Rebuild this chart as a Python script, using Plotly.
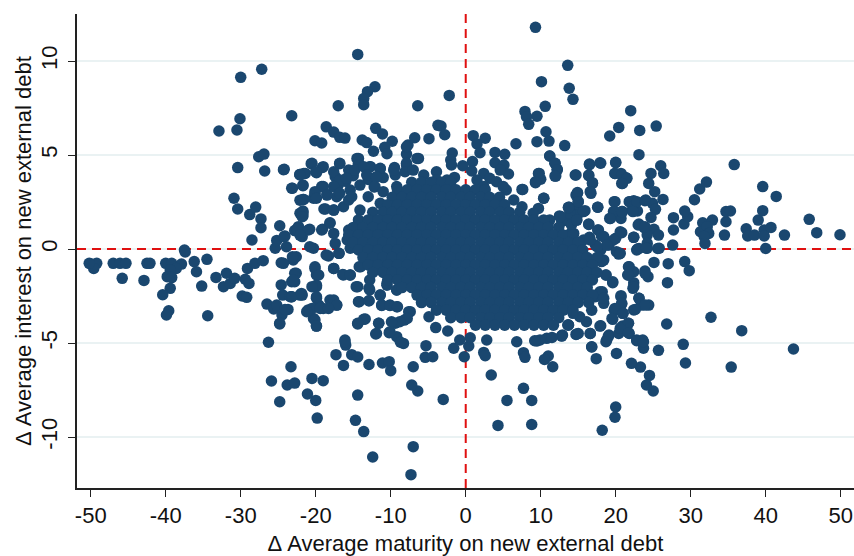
import plotly.graph_objects as go

left_maturity = [-49.9,-49.2,-49.6,-50.2,-47.0,-46.1,-45.3,-45.8,-42.9,-42.5,
 -42.1,-40.0,-39.2,-37.4,-37.9,-38.6,-36.2,-34.5,-35.9,-39.4,
 -39.8,-39.2,-39.4,-40.4,-39.6,-39.9,-35.2,-34.4,-33.3,-31.9,
 -32.3,-31.4,-30.8,-29.4,-28.9,-29.8,-29.2,-29.1,-28.1,-27.0,
 -26.5,-25.6,-25.2,-24.5,-23.7,-24.8,-26.3,-23.3,-25.9,-23.8,
 -22.8,-24.8,-24.6,-25.4,-23.9,-23.0,-22.8,-23.2,-24.6,-24.4,
 -23.2,-22.1,-37.5,-30.0,-27.2,-23.2,-32.9,-30.5,-30.1,-27.6,
 -26.9,-30.4,-26.8,-24.3,-22.1,-23.2,-30.9,-30.4,-28.8,-28.0,
 -27.3,-27.3,-24.8,-24.1,-25.2,-28.5,-22.8,-22.3,-22.1,-22.1]
left_interest = [-0.80,-0.76,-1.03,-0.76,-0.76,-0.76,-0.76,-1.56,-1.67,-0.76,
 -0.76,-0.76,-0.76,-0.16,-0.80,-1.03,-0.67,-0.55,-1.21,-1.12,
 -1.47,-1.52,-2.09,-2.43,-3.28,-3.51,-1.97,-3.55,-1.51,-1.29,
 -2.00,-1.83,-1.56,-1.61,-1.83,-2.50,-2.57,-1.03,-0.76,-0.62,
 -2.93,-3.19,-2.98,-3.51,-3.21,-3.99,-4.96,-6.26,-7.02,-7.23,
 -7.13,-8.12,-0.73,0.04,0.12,-0.58,-1.29,-1.74,-1.91,-2.45,
 -2.54,-2.45,-0.05,9.13,9.56,7.09,6.28,6.33,6.93,4.91,
 5.05,4.33,4.15,4.22,3.97,3.23,2.70,2.13,1.83,2.23,
 1.60,1.13,1.24,0.69,0.46,0.48,0.98,1.19,2.60,1.90]

top_maturity = [9.3,-14.4,13.6,10.1,13.8,14.3,-12.1,-13.1,-13.6,-13.6,
 -17.0,-6.4,-2.2,7.9,8.1,8.4,9.5,10.6,-18.6,-17.6,
 -16.8,-16.1,-20.1,-19.2,-12.0,-11.1,-13.8,-13.2,-9.8,-10.8,
 -12.3,-10.5,-7.7,-6.8,-4.9,-3.7,-3.3,-2.8,-7.9,-6.3,
 -1.8,-2.0,-1.9,1.0,2.6,1.5,1.9,0.9,-0.4,0.8,
 3.9,5.2,3.9,5.1,6.7,9.5,10.7,11.1,13.2,11.2,
 11.9,12.2,12.0,14.6,9.7,10.0,9.3,7.5,5.4,10.4,
 14.7,13.7,14.8,12.5,14.4,9.7,-14.5,-14.3,-12.7,-11.4,
 -9.5,-9.4,-7.9,-16.8,-19.1,-20.6,-19.9,-21.4,-22.1,-24.2,
 -21.7,-21.7,-21.7,-21.7,-20.3,-20.1,-19.2,-18.9,-17.6,-17.4,
 -17.0,-17.2,-22.5,-20.8,-19.1,-18.1,-21.8,-24.2,-3.9,-1.5,
 2.4,3.2,5.7,4.6,-16.0,-15.0,-13.0,-12.2,-11.0,-18.5]
top_interest = [11.79,10.35,9.77,8.90,8.55,7.96,8.63,8.37,8.00,7.68,
 7.62,7.62,8.17,7.32,7.04,6.63,7.06,7.59,6.50,6.22,
 5.94,5.90,5.76,5.64,6.42,6.12,5.80,5.66,5.73,5.41,
 5.20,5.07,5.53,5.92,5.87,6.58,6.54,6.08,5.05,4.82,
 5.11,4.73,4.47,6.03,5.89,5.59,5.12,4.65,4.43,4.15,
 5.14,5.04,4.59,4.47,5.60,5.71,6.24,5.74,5.50,4.95,
 4.56,4.24,3.88,3.94,4.02,3.71,3.53,3.17,3.14,2.70,
 2.87,2.22,2.25,1.76,0.83,2.16,4.82,4.56,4.38,4.26,
 4.33,3.94,4.47,4.54,4.34,4.54,4.06,4.02,3.97,4.24,
 3.37,2.64,2.02,1.76,2.70,3.05,3.32,2.13,2.07,3.85,
 3.40,2.78,1.01,1.05,1.05,1.40,0.66,0.66,4.11,3.81,
 4.02,3.76,3.99,4.20,3.60,3.90,3.70,3.30,3.80,2.90]

right_maturity = [22.0,20.4,19.2,23.2,25.4,23.1,35.8,20.0,18.0,16.5,
 16.4,16.9,16.7,14.9,15.0,19.9,20.7,21.3,20.9,24.7,
 26.0,26.4,24.4,25.2,26.3,24.0,24.9,25.3,24.7,19.9,
 22.4,21.8,22.2,22.9,20.9,19.8,20.7,19.3,17.6,15.9,
 13.8,14.9,13.8,12.7,16.4,17.6,18.1,16.5,14.0,12.7,
 23.1,23.8,25.1,25.7,24.2,20.8,22.4,20.0,19.1,17.3,
 23.1,24.2,25.6,27.6,27.7,27.7,29.1,29.6,29.2,30.5,
 31.2,32.1,31.6,32.9,31.3,32.2,32.4,31.8,31.9,34.5,
 34.7,34.7,35.3,37.4,37.6,38.5,39.0,39.6,39.6,41.4,
 39.8,40.7,39.8,42.5,45.8,46.8,49.9,40.0]
right_interest = [7.36,6.47,6.01,6.31,6.54,5.02,4.49,4.59,4.56,4.49,
 3.90,3.49,2.96,2.96,2.52,4.02,4.02,3.81,3.49,4.02,
 4.43,4.02,3.49,3.05,2.64,2.61,2.43,2.11,1.68,2.52,
 2.57,2.52,2.07,2.02,1.99,1.99,1.63,1.63,2.22,2.04,
 2.22,1.81,1.45,1.72,1.33,1.01,0.69,0.62,0.83,0.48,
 1.33,1.13,1.05,0.74,0.74,0.87,0.62,0.57,0.21,0.21,
 0.03,0.30,0.03,0.21,1.01,1.67,1.33,1.72,2.02,2.62,
 3.19,3.56,1.40,1.54,0.92,1.19,0.83,0.66,0.30,0.74,
 1.45,1.99,2.02,1.08,0.69,0.74,1.54,2.04,3.32,2.80,
 1.01,1.15,0.69,0.74,1.58,0.87,0.76,0.03]

low_maturity = [-7.3,-12.4,-7.0,-13.6,-14.7,-19.8,4.3,8.8,-3.0,5.5,
 8.8,7.7,3.4,-6.4,-7.2,-7.0,-14.4,-20.0,-21.1,-19.0,
 -20.5,-16.3,-17.3,-15.2,-14.4,-12.9,-11.1,-10.2,-10.0,-16.1,
 -16.0,-5.3,-5.4,-4.4,-0.2,-1.6,-0.8,0.4,0.6,2.4,
 2.6,2.8,7.7,7.9,6.8,11.0,10.5,11.6,9.5,10.8,
 12.8,14.7,13.7,-8.3,-9.2,-10.2,-12.0,-11.6,-13.4,-14.4,
 -9.4,-8.2,-7.4,-4.9,-4.0,-2.4,-19.9,-20.3,-21.0,-19.6,
 -18.1,-17.2,-19.0,-24.1,-24.8,-19.9,-19.9,-21.8,-23.4,-19.9,
 -20.1,-22.8,-22.6,-22.6,-24.3,-14.2,-12.9,-11.2,-10.1,-9.2,
 -14.4,-12.9,-11.4,-17.6,-16.3,-15.4,-14.2,-18.3,-16.9,-20.3,
 -15.4,-9.2,-10.5]
low_interest = [-12.00,-11.06,-10.51,-9.71,-9.11,-8.99,-9.38,-9.33,-8.00,-8.05,
 -8.05,-7.41,-6.70,-7.55,-7.23,-6.26,-7.77,-8.05,-7.71,-7.00,
 -6.88,-6.19,-5.62,-5.62,-5.74,-6.14,-6.06,-5.99,-6.47,-4.84,
 -5.11,-5.14,-5.76,-5.73,-5.73,-5.28,-4.84,-5.16,-4.72,-5.50,
 -5.67,-4.84,-5.51,-5.76,-4.93,-5.69,-5.87,-6.26,-4.89,-4.75,
 -4.61,-4.54,-4.04,-5.02,-4.66,-4.45,-4.52,-3.95,-3.72,-3.99,
 -3.95,-3.78,-3.33,-3.60,-4.18,-4.36,-4.10,-3.69,-3.24,-2.98,
 -2.71,-2.98,-3.16,-3.21,-3.95,-2.62,-2.00,-2.45,-2.54,-1.38,
 -1.03,-1.74,-1.29,-0.41,-0.76,-2.80,-2.75,-2.98,-2.98,-3.07,
 -2.00,-2.09,-2.45,-1.03,-1.38,-1.38,-0.94,-0.37,-0.23,0.04,
 0.04,-2.18,-1.92]

lowright_maturity = [18.2,19.9,20.0,25.0,24.1,24.5,23.3,22.1,17.4,20.1,
 16.8,23.7,25.7,29.3,29.0,35.4,43.7,36.8,32.7,26.8,
 22.8,23.6,18.8,19.1,20.4,20.9,21.8,21.7,18.0,16.6,
 14.8,12.9,13.6,19.6,20.9,22.4,24.4,23.1,23.4,20.7,
 20.8,22.3,22.4,21.6,21.8,22.4,23.9,24.3,26.9,25.1,
 27.0,29.2,29.8,25.8,22.9,24.2,20.4,19.6,18.7,18.2,
 17.3,18.4,19.8,18.4,18.0]
lowright_interest = [-9.64,-8.95,-8.40,-7.55,-7.23,-6.72,-6.28,-6.08,-5.83,-5.55,
 -5.21,-5.28,-5.39,-6.06,-5.07,-6.28,-5.32,-4.34,-3.63,-3.99,
 -4.84,-4.84,-4.84,-4.57,-4.49,-4.10,-4.49,-3.95,-4.08,-4.49,
 -4.52,-4.57,-4.04,-3.74,-3.42,-3.24,-2.98,-2.62,-2.98,-2.48,
 -2.93,-2.09,-1.79,-1.38,-0.94,-1.21,-1.17,-1.47,-1.79,-0.71,
 -0.78,-0.67,-1.15,0.04,0.00,0.04,-0.27,-1.79,-1.38,-2.27,
 -2.54,-2.89,-3.25,-0.59,-0.05]

# Points from closer crops around the central mass
nearleft_maturity = [-20.5,-19.0,-20.0,-21.6,-22.1,-21.7,-23.1,-16.8,-17.6,-14.3,
 -14.3,-15.6,-16.8,-19.0,-20.1,-21.6,-19.9,-18.5,-17.6,-16.8,
 -21.7,-21.8,-18.7,-17.6,-16.3,-18.1,-17.6,-19.2,-21.0,-22.5,
 -22.1,-20.8,-18.6,-16.9,-17.4,-15.8,-15.6,-15.6,-15.4,-12.8,
 -11.4,-9.6,-7.9,-7.9,-6.5,-14.8,-13.6,-15.9,-13.2,-11.9,
 -12.1,-11.0,-14.1,-15.2,-13.0,-11.4,-14.1,-9.2,-8.1,-7.0,
 -5.6,-3.9,-2.5,1.5,4.1,5.0,2.4,6.4,7.5,9.0,
 11.2,12.8,13.9,14.1,14.8]
nearleft_interest = [4.56,4.38,4.11,4.02,3.94,3.40,3.23,4.56,4.11,4.82,
 4.47,4.20,3.67,3.32,2.96,2.64,2.70,2.87,3.32,2.96,
 1.93,1.72,2.13,2.07,2.25,1.37,0.83,1.01,1.01,1.05,
 0.74,0.12,-0.32,-0.23,0.30,0.48,1.01,2.61,3.14,4.38,
 4.29,4.20,4.56,5.44,4.82,4.20,4.38,3.76,3.94,3.85,
 3.32,3.05,3.40,2.78,2.78,2.43,2.07,3.32,4.11,4.20,
 3.94,3.67,3.67,3.67,3.58,3.32,3.32,2.61,2.25,1.90,
 1.54,1.45,1.90,1.28,1.54]

lowleft_maturity = [-20.1,-19.6,-17.6,-16.4,-15.4,-14.0,-14.6,-12.8,-12.8,-10.5,
 -9.2,-11.4,-14.3,-12.9,-11.2,-10.1,-9.1,-7.6,-7.8,-8.8,
 -9.9,-11.6,-11.9,-13.6,-14.4,-10.1,-8.7,-16.1,-23.1,-23.0,
 -23.2,-21.9,-19.9,-20.5,-19.9,-20.5,-21.2,-19.4,-17.6,-17.2,
 -18.3,-20.1,-19.9]
lowleft_interest = [-0.94,-1.38,-1.03,-1.35,-1.38,-0.94,-2.00,-1.65,-2.18,-1.83,
 -2.18,-2.45,-2.80,-2.75,-3.00,-3.00,-3.07,-3.33,-3.69,-3.87,
 -3.87,-3.95,-4.49,-3.74,-3.95,-4.40,-4.96,-4.93,-0.41,-1.65,
 -2.54,-2.36,-1.92,-2.00,-2.54,-3.16,-3.33,-3.16,-2.71,-2.98,
 -3.16,-3.78,-4.10]

nearright_maturity = [11.2,11.9,12.2,11.9,9.8,9.3,7.6,10.4,16.5,17.9,
 14.7,16.4,16.9,16.6,14.9,15.0,13.7,15.7,14.8,12.6,
 17.6,20.0,19.9,20.8,21.5,20.8,19.8,21.9,22.8,23.9,
 19.7,20.8,22.3,19.2,16.4,17.7,18.4,15.7,13.9,12.8,
 20.6,19.7,22.4,20.1,18.8,17.5,16.6,23.0,23.9,22.8,
 24.1,20.6,18.1,18.7,19.6,21.7,21.7,22.4,23.9,17.9,
 18.4,20.7,20.8,23.1,23.9,22.6,19.9,21.0,19.5,17.9,
 21.7,20.6,21.7,19.0,18.7,22.8,23.7,16.6,15.0,13.7,
 12.8,11.5,9.9,9.2,16.1,16.8,15.2,14.3,16.8]
nearright_interest = [4.95,4.56,4.20,3.88,4.02,3.58,3.17,2.70,4.52,4.59,
 3.94,3.94,3.53,3.05,3.00,2.52,2.20,1.99,1.54,1.72,
 2.22,4.61,4.02,3.94,3.76,3.49,2.52,2.52,2.52,2.57,
 1.99,1.99,1.99,1.63,1.31,1.01,0.66,0.48,0.74,0.66,
 0.92,0.48,0.62,-0.14,0.21,0.12,0.48,1.28,1.19,-0.05,
 0.04,-0.23,-0.67,-1.38,-1.74,-0.94,-1.38,-2.00,-1.29,-2.27,
 -2.62,-2.54,-2.89,-2.62,-2.98,-3.21,-3.16,-3.42,-3.69,-4.10,
 -3.95,-4.22,-4.45,-4.66,-4.93,-4.88,-4.93,-4.49,-4.49,-4.04,
 -4.63,-4.70,-4.84,-4.88,-3.87,-5.20,-3.60,-3.42,-3.25]

# Dense central mass, one list of maturity values per interest level
core_levels = [3.55,3.15,2.75,2.35,1.95,1.55,1.15,0.75,0.35,-0.05,
 -0.45,-0.85,-1.25,-1.65,-2.05,-2.45,-2.85,-3.25,-3.65,-4.05]
core_maturity = [
 [-7.2,-5.9,-4.6,-3.2,-2.0],
 [-9.1,-7.8,-6.5,-5.2,-3.9,-2.6,-1.3,0.0,1.3,2.6],
 [-9.8,-8.5,-7.2,-5.9,-4.6,-3.2,-2.0,-0.6,0.6,2.0,3.2,4.5],
 [-10.4,-9.1,-7.8,-6.5,-5.2,-3.9,-2.6,-1.3,0.0,1.3,2.6,3.9,5.2],
 [-12.4,-11.0,-9.8,-8.5,-7.2,-5.9,-4.6,-3.2,-2.0,-0.6,0.6,2.0,3.2,4.6,5.8,7.2],
 [-14.3,-13.0,-11.7,-10.4,-9.1,-7.8,-6.5,-5.2,-3.9,-2.6,-1.3,0.0,1.3,2.6,3.9,5.2,6.5,7.8,9.1,10.4],
 [-15.0,-13.7,-12.4,-11.0,-9.8,-8.5,-7.2,-5.9,-4.6,-3.2,-2.0,-0.6,0.6,2.0,3.2,4.6,5.8,7.2,8.4,9.8,11.0,12.4],
 [-15.6,-14.3,-13.0,-11.7,-10.4,-9.1,-7.8,-6.5,-5.2,-3.9,-2.6,-1.3,0.0,1.3,2.6,3.9,5.2,6.5,7.8,9.1,10.4,11.7,13.0,14.3],
 [-15.0,-13.7,-12.4,-11.0,-9.8,-8.5,-7.2,-5.9,-4.6,-3.2,-2.0,-0.6,0.6,2.0,3.2,4.6,5.8,7.2,8.4,9.8,11.0,12.4,13.7,15.0],
 [-14.3,-13.0,-11.7,-10.4,-9.1,-7.8,-6.5,-5.2,-3.9,-2.6,-1.3,0.0,1.3,2.6,3.9,5.2,6.5,7.8,9.1,10.4,11.7,13.0,14.3,15.6],
 [-13.7,-12.4,-11.0,-9.8,-8.5,-7.2,-5.9,-4.6,-3.2,-2.0,-0.6,0.6,2.0,3.2,4.6,5.8,7.2,8.4,9.8,11.0,12.4,13.6,15.0,16.2,17.5],
 [-13.0,-11.7,-10.4,-9.1,-7.8,-6.5,-5.2,-3.9,-2.6,-1.3,0.0,1.3,2.6,3.9,5.2,6.5,7.8,9.1,10.4,11.7,13.0,14.3,15.6,16.9],
 [-12.4,-11.0,-9.8,-8.5,-7.2,-5.9,-4.6,-3.2,-2.0,-0.6,0.6,2.0,3.2,4.6,5.8,7.2,8.4,9.8,11.0,12.4,13.6,15.0,16.2,17.5],
 [-10.4,-9.1,-7.8,-6.5,-5.2,-3.9,-2.6,-1.3,0.0,1.3,2.6,3.9,5.2,6.5,7.8,9.1,10.4,11.7,13.0,14.3,15.6,16.9],
 [-8.5,-7.2,-5.9,-4.6,-3.2,-2.0,-0.6,0.6,2.0,3.2,4.6,5.8,7.2,8.4,9.8,11.0,12.4,13.6,15.0,16.2],
 [-6.5,-5.2,-3.9,-2.6,-1.3,0.0,1.3,2.6,3.9,5.2,6.5,7.8,9.1,10.4,11.7,13.0,14.3,15.6,16.9],
 [-5.9,-4.6,-3.2,-2.0,-0.6,0.6,2.0,3.2,4.6,5.8,7.2,8.4,9.8,11.0,12.4,13.7,15.0,16.4],
 [-3.9,-2.6,-1.3,0.0,1.3,2.6,3.9,5.2,6.5,7.8,9.1,10.4,11.7,13.0,14.3],
 [-2.0,-0.6,0.6,2.0,3.2,4.6,5.8,7.2,8.4,9.8,11.0,12.4],
 [1.3,2.6,3.9,5.2,6.5,7.8,9.1,10.4,11.7],
]

x_ticks = [-50,-40,-30,-20,-10,0,10,20,30,40,50]
x_labels = ["-50","-40","-30","-20","-10","0","10","20","30","40","50"]
y_ticks = [-10,-5,0,5,10]
y_labels = ["-10","-5","0","5","10"]
x_title = "Δ Average maturity on new external debt"
y_title = "Δ Average interest on new external debt"
x_range = [-51.83, 51.77]
y_range = [-12.71, 12.5]

xs = (left_maturity + top_maturity + right_maturity + low_maturity + lowright_maturity
      + nearleft_maturity + lowleft_maturity + nearright_maturity)
ys = (left_interest + top_interest + right_interest + low_interest + lowright_interest
      + nearleft_interest + lowleft_interest + nearright_interest)
for level, row in zip(core_levels, core_maturity):
    xs = xs + row
    ys = ys + [level for _ in row]

NAVY = "#1a476f"
GRID = "#eaf2f3"
RED = "#e01010"

fig = go.Figure(go.Scatter(x=xs, y=ys, mode="markers",
    marker=dict(color=NAVY, size=11.5, line=dict(width=0)), hoverinfo="skip"))

dash = "9px,6px"
fig.add_shape(type="line", xref="x", yref="y", x0=x_range[0], x1=x_range[1], y0=0, y1=0,
              line=dict(color=RED, width=2, dash=dash), layer="between")
fig.add_shape(type="line", xref="x", yref="y", x0=0, x1=0, y0=y_range[0], y1=y_range[1],
              line=dict(color=RED, width=2, dash=dash), layer="between")

font = dict(family="Liberation Sans, Arial, sans-serif", size=22, color="#111111")
axis_common = dict(showline=True, linecolor="#222222", linewidth=1.5, zeroline=False,
                   ticks="outside", ticklen=7, tickwidth=1.2, tickcolor="#222222",
                   automargin=False)
fig.update_layout(
    width=854, height=556, autosize=False, showlegend=False,
    paper_bgcolor="white", plot_bgcolor="white",
    margin=dict(l=77, r=0, t=14, b=68), font=font,
    xaxis=dict(range=x_range, tickvals=x_ticks, ticktext=x_labels, showgrid=False,
               title=dict(text=x_title, standoff=10, font=font), **axis_common),
    yaxis=dict(range=y_range, tickvals=y_ticks, ticktext=y_labels, showgrid=True,
               gridcolor=GRID, gridwidth=1.5, tickangle=-90, ticklabelstandoff=2,
               title=dict(text=y_title, standoff=0, font=font), **axis_common),
)
# Remove the browser's default page margin so the figure fills the window
fig.write_html("out.html", default_width="854px", default_height="556px",
               config={"displayModeBar": False},
               post_script="document.body.style.margin='0';document.documentElement.style.overflow='hidden';")
